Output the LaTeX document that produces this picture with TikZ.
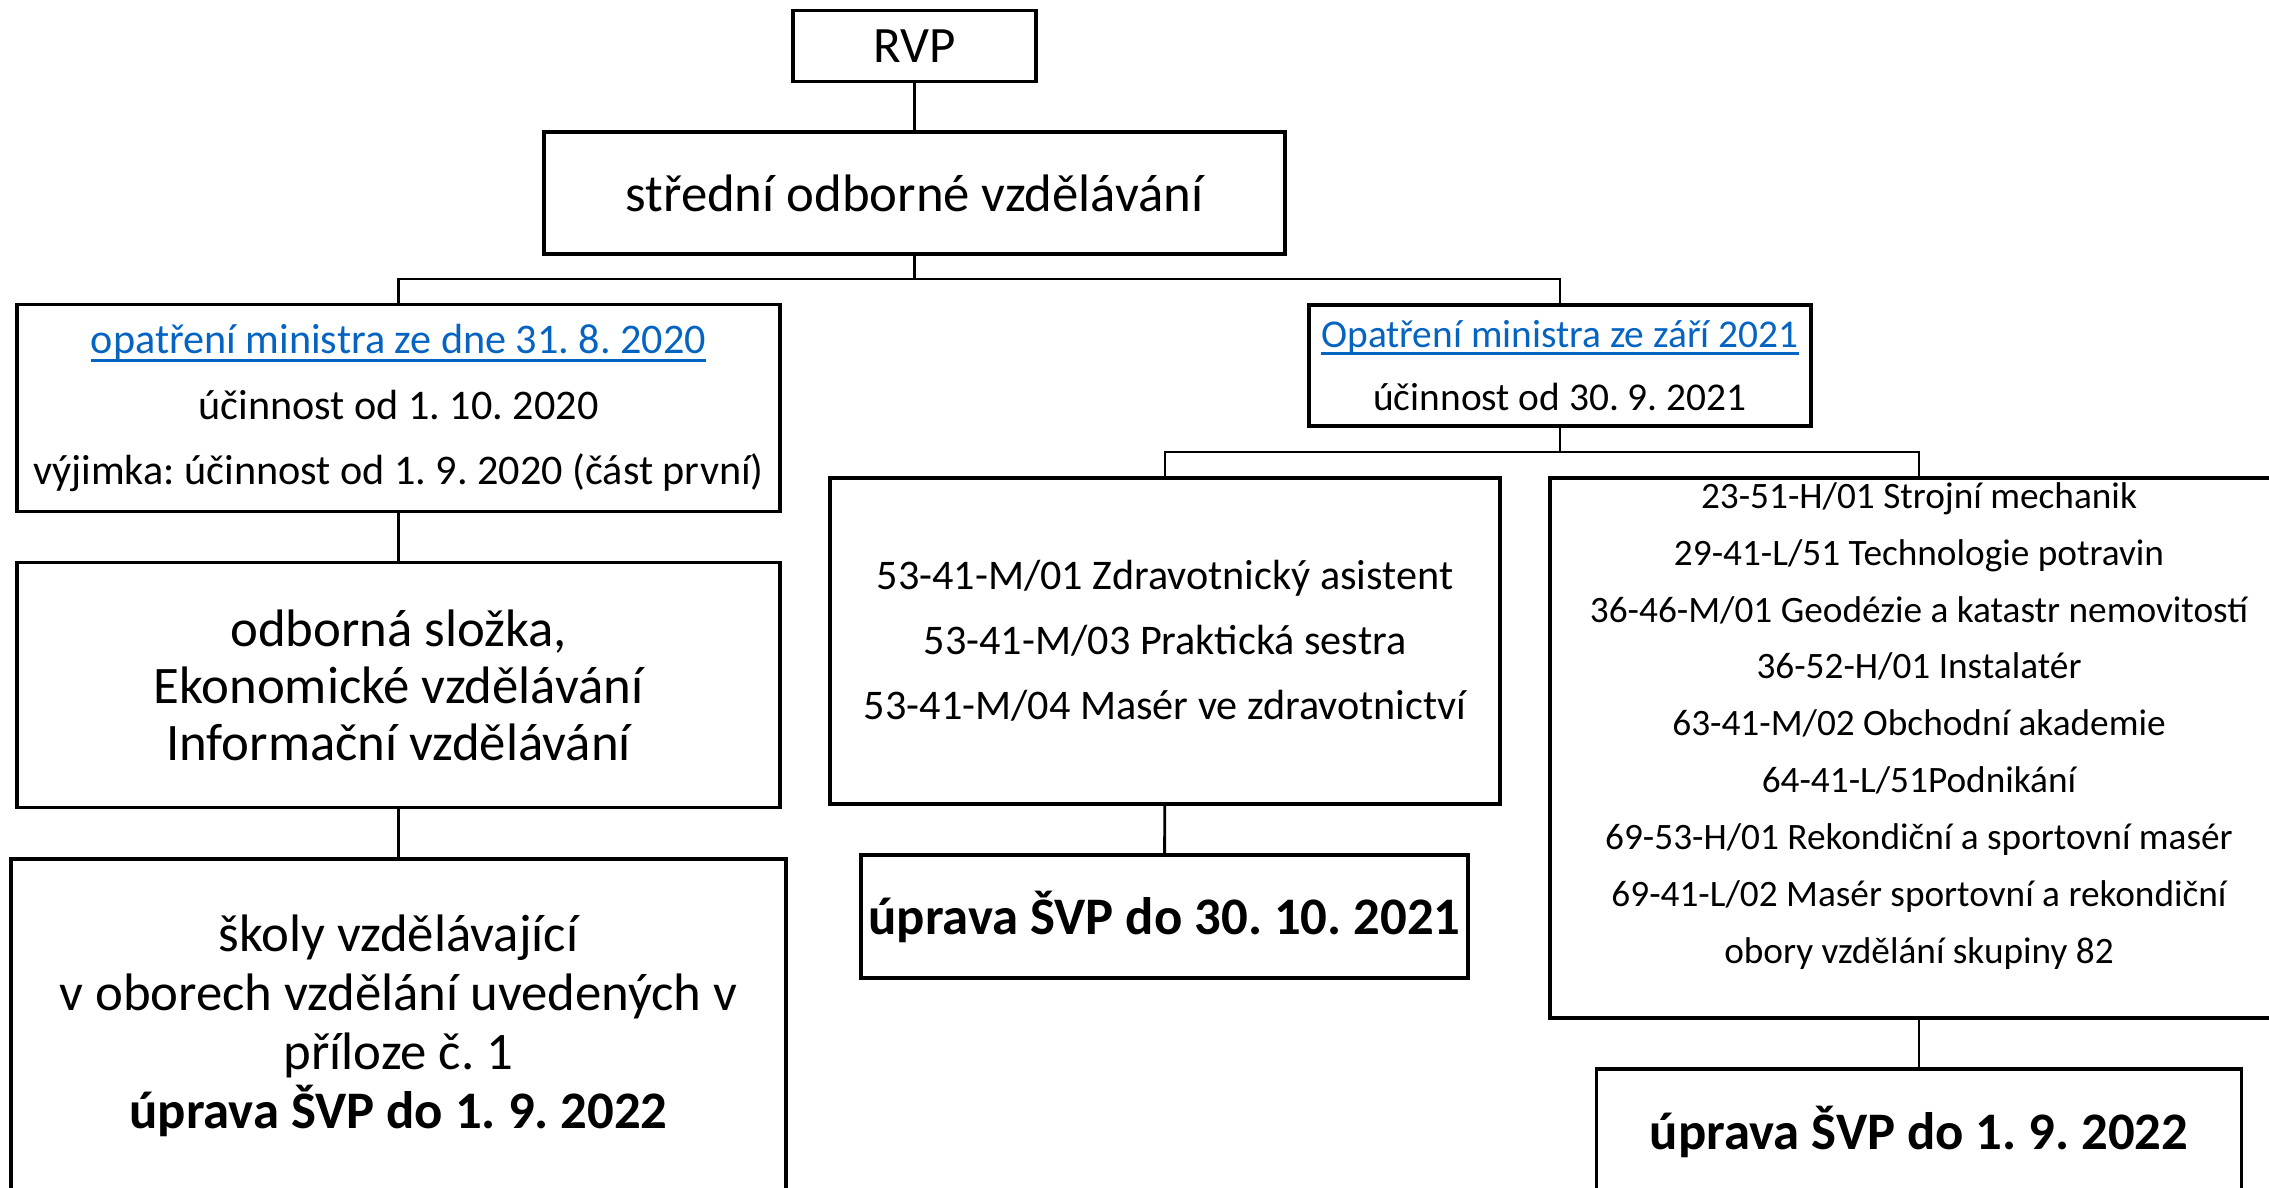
\documentclass[tikz,border=0pt]{standalone}
\usepackage{fontspec}
\setmainfont{Carlito}
\usetikzlibrary{positioning}
\definecolor{odkaz}{RGB}{5,99,193}
\newcommand{\podtrzeni}[1]{\setbox0\hbox{#1}\rlap{\usebox0}\rule[-2.2pt]{\wd0}{0.8pt}}

\begin{document}
\frenchspacing
\begin{tikzpicture}[x=0.01cm, y=-0.01cm,
  kotak/.style={draw, rectangle, line width=1pt, align=center, inner sep=0pt},
  teks/.style={align=center, inner sep=0pt},
  spoj/.style={line width=0.8pt}]

  \useasboundingbox (0,0) rectangle (2269,1187);

  % Horní úroveň
  \node[kotak, minimum width=2.43cm, minimum height=0.71cm, font=\fontsize{14.5}{17}\selectfont] (RVP) at (914.5,46) {RVP};
  \node[kotak, minimum width=7.41cm, minimum height=1.22cm, font=\fontsize{15}{18}\selectfont] (SOV) at (914.5,193) {střední odborné vzdělávání};

  % Levá větev
  \node[kotak, minimum width=7.63cm, minimum height=2.07cm, font=\fontsize{12}{18.5}\selectfont] (OP1) at (398.5,408)
    {\textcolor{odkaz}{\podtrzeni{opatření ministra ze dne 31. 8. 2020}}\\ účinnost od 1. 10. 2020\\ výjimka: účinnost od 1. 9. 2020 (část první)};
  \node[kotak, minimum width=7.63cm, minimum height=2.45cm, font=\fontsize{15}{16.2}\selectfont] (SLO) at (398.5,685)
    {odborná složka,\\ Ekonomické vzdělávání\\ Informační vzdělávání};
  \node[kotak, minimum width=7.75cm, minimum height=3.34cm, font=\fontsize{15}{16.8}\selectfont] (SKO) at (398.5,1026)
    {školy vzdělávající\\ v oborech vzdělání uvedených v\\ příloze č. 1\\ \textbf{úprava ŠVP do 1. 9. 2022}};

  % Pravá větev
  \node[kotak, minimum width=5.02cm, minimum height=1.21cm, font=\fontsize{11.2}{17.9}\selectfont] (OP2) at (1560,365.5)
    {\textcolor{odkaz}{\podtrzeni{Opatření ministra ze září 2021}}\\ účinnost od 30. 9. 2021};
  \node[kotak, minimum width=6.70cm, minimum height=3.26cm, font=\fontsize{12}{18.5}\selectfont] (ZDR) at (1165,641)
    {53-41-M/01 Zdravotnický asistent\\ 53-41-M/03 Praktická sestra\\ 53-41-M/04 Masér ve zdravotnictví};
  \node[kotak, minimum width=6.07cm, minimum height=1.23cm, font=\bfseries\fontsize{15}{18}\selectfont] (UP1) at (1164.5,916.5) {úprava ŠVP do 30. 10. 2021};
  \node[kotak, minimum width=7.38cm, minimum height=5.40cm] (OBO) at (1919,748) {};
  \node[teks, font=\fontsize{10.6}{16.2}\selectfont] (OBOtxt) at (1919,726)
    {23-51-H/01 Strojní mechanik\\ 29-41-L/51 Technologie potravin\\ 36-46-M/01 Geodézie a katastr nemovitostí\\
     36-52-H/01 Instalatér\\ 63-41-M/02 Obchodní akademie\\ 64-41-L/51Podnikání\\
     69-53-H/01 Rekondiční a sportovní masér\\ 69-41-L/02 Masér sportovní a rekondiční\\ obory vzdělání skupiny 82};
  \node[kotak, minimum width=6.45cm, minimum height=1.26cm, font=\bfseries\fontsize{15}{18}\selectfont] (UP2) at (1919,1132) {úprava ŠVP do 1. 9. 2022};

  % Spojnice
  \coordinate (bus1) at (914.5,279);
  \coordinate (bus2) at (1560,452);
  \draw[spoj] (RVP) -- (SOV);
  \draw[spoj] (SOV.south) -- (bus1);
  \draw[spoj] (OP1.north) |- (bus1) -| (OP2.north);
  \draw[spoj] (OP1) -- (SLO);
  \draw[spoj] (SLO) -- (SKO);
  \draw[spoj] (OP2.south) -- (bus2);
  \draw[spoj] (ZDR.north) |- (bus2) -| (OBO.north);
  \draw[spoj] (ZDR) -- (UP1);
  \draw[spoj] (OBO) -- (UP2);

\end{tikzpicture}
\end{document}
